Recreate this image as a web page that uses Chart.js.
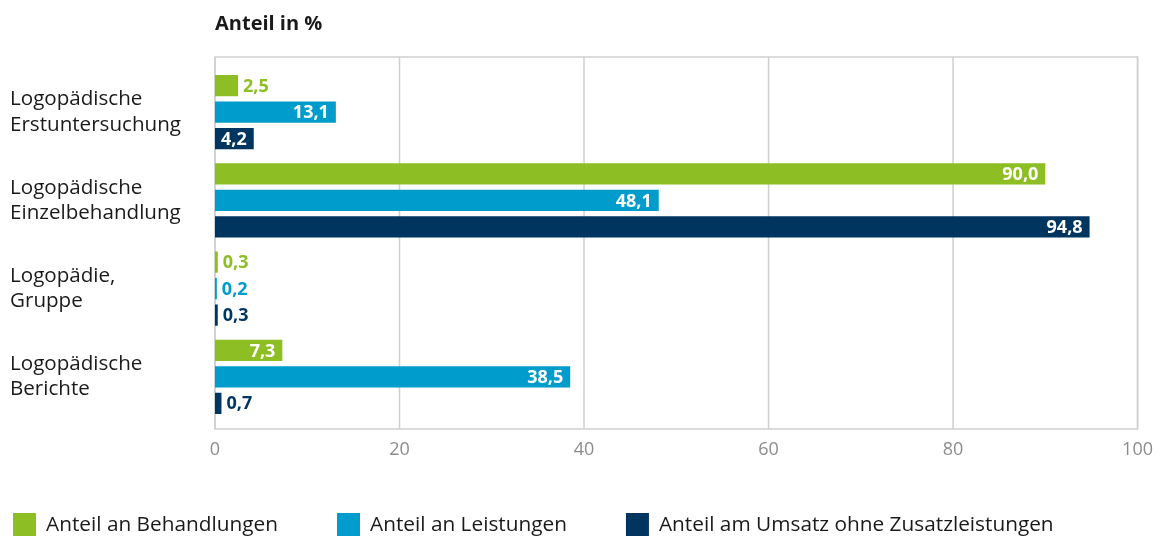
<!DOCTYPE html>
<html lang="de">
<head>
<meta charset="utf-8">
<title>Anteil in %</title>
<script src="https://cdn.jsdelivr.net/npm/chart.js@4.4.1/dist/chart.umd.min.js"></script>
<style>
  html, body { margin: 0; padding: 0; background: #fff; }
  #wrap { width: 1163px; height: 536px; position: relative; }
</style>
</head>
<body>
<div id="wrap"><canvas id="logoChart"></canvas></div>
<script>
// Data
const categories = [
  ['Logopädische', 'Erstuntersuchung'],
  ['Logopädische', 'Einzelbehandlung'],
  ['Logopädie,', 'Gruppe'],
  ['Logopädische', 'Berichte']
];
const seriesNames = ['Anteil an Behandlungen', 'Anteil an Leistungen', 'Anteil am Umsatz ohne Zusatzleistungen'];
const behandlungen = [2.5, 90.0, 0.3, 7.3];
const leistungen = [13.1, 48.1, 0.2, 38.5];
const umsatz = [4.2, 94.8, 0.3, 0.7];
const xTicks = [0, 20, 40, 60, 80, 100];
const axisTitle = 'Anteil in %';

const colors = ['#8dbe23', '#009ccc', '#00355f'];
const textColor = '#1a1a1a';
const gridColor = '#cfcfcf';

Chart.defaults.font.family = '"Open Sans", sans-serif';

// Frame and vertical grid lines, slightly taller than the bar area
const frameAndGrid = {
  id: 'frameAndGrid',
  beforeDatasetsDraw(chart) {
    const { ctx, chartArea, scales } = chart;
    const top = chartArea.top - 11;
    const bottom = chartArea.bottom + 8;
    ctx.save();
    ctx.strokeStyle = gridColor;
    ctx.lineWidth = 1.5;
    xTicks.forEach(v => {
      const x = scales.x.getPixelForValue(v);
      ctx.beginPath();
      ctx.moveTo(x, top);
      ctx.lineTo(x, bottom);
      ctx.stroke();
    });
    ctx.strokeRect(chartArea.left, top, chartArea.right - chartArea.left, bottom - top);
    ctx.restore();
  }
};

// "Anteil in %" above the plot, aligned with its left edge
const axisCaption = {
  id: 'axisCaption',
  afterDraw(chart) {
    const { ctx, chartArea } = chart;
    ctx.save();
    ctx.font = 'bold 20px "Open Sans"';
    ctx.fillStyle = textColor;
    ctx.textBaseline = 'middle';
    ctx.fillText(axisTitle, chartArea.left, 24);
    ctx.restore();
  }
};

// Value labels: white inside long bars, bar colour next to short ones
const valueLabels = {
  id: 'valueLabels',
  afterDatasetsDraw(chart) {
    const { ctx } = chart;
    ctx.save();
    ctx.font = 'bold 18px "Open Sans"';
    ctx.textBaseline = 'middle';
    chart.data.datasets.forEach((ds, i) => {
      chart.getDatasetMeta(i).data.forEach((bar, j) => {
        const txt = ds.data[j].toFixed(1).replace('.', ',');
        const w = ctx.measureText(txt).width;
        if (bar.x - bar.base > w + 12) {
          ctx.fillStyle = '#fff';
          ctx.textAlign = 'right';
          ctx.fillText(txt, bar.x - 7, bar.y + 1);
        } else {
          ctx.fillStyle = ds.backgroundColor;
          ctx.textAlign = 'left';
          ctx.fillText(txt, bar.x + 5, bar.y + 1);
        }
      });
    });
    ctx.restore();
  }
};

// Legend row along the bottom edge
const bottomLegend = {
  id: 'bottomLegend',
  afterDraw(chart) {
    const { ctx, height } = chart;
    ctx.save();
    ctx.font = '20.8px "Open Sans"';
    ctx.textBaseline = 'middle';
    let x = 13;
    const y = height - 23;
    chart.data.datasets.forEach(ds => {
      ctx.fillStyle = ds.backgroundColor;
      ctx.fillRect(x, y, 23, 23);
      ctx.fillStyle = textColor;
      ctx.fillText(ds.label, x + 33, y + 12);
      x += 33 + ctx.measureText(ds.label).width + 59;
    });
    ctx.restore();
  }
};

const ctx = document.getElementById('logoChart').getContext('2d');
new Chart(ctx, {
  type: 'bar',
  data: {
    labels: categories,
    datasets: [behandlungen, leistungen, umsatz].map((d, i) => ({
      label: seriesNames[i],
      data: d,
      backgroundColor: colors[i],
      borderWidth: 0
    }))
  },
  options: {
    indexAxis: 'y',
    responsive: true,
    maintainAspectRatio: false,
    animation: false,
    layout: { autoPadding: false, padding: { left: 10, right: 25, top: 68, bottom: 60 } },
    datasets: { bar: { categoryPercentage: 0.9, barPercentage: 0.81 } },
    plugins: {
      legend: { display: false },
      tooltip: { enabled: false }
    },
    scales: {
      x: {
        min: 0,
        max: 100,
        grid: { display: false },
        border: { display: false },
        ticks: { color: '#8c8c8c', font: { size: 18 }, padding: 10 },
        afterBuildTicks: scale => { scale.ticks = xTicks.map(v => ({ value: v })); },
        afterFit: scale => { scale.height = 55; }
      },
      y: {
        grid: { display: false },
        border: { display: false },
        ticks: { color: textColor, font: { size: 20.6, lineHeight: 1.22 }, crossAlign: 'far', padding: 0 },
        afterFit: scale => { scale.width = 205; }
      }
    }
  },
  plugins: [frameAndGrid, valueLabels, axisCaption, bottomLegend]
});
</script>
</body>
</html>
